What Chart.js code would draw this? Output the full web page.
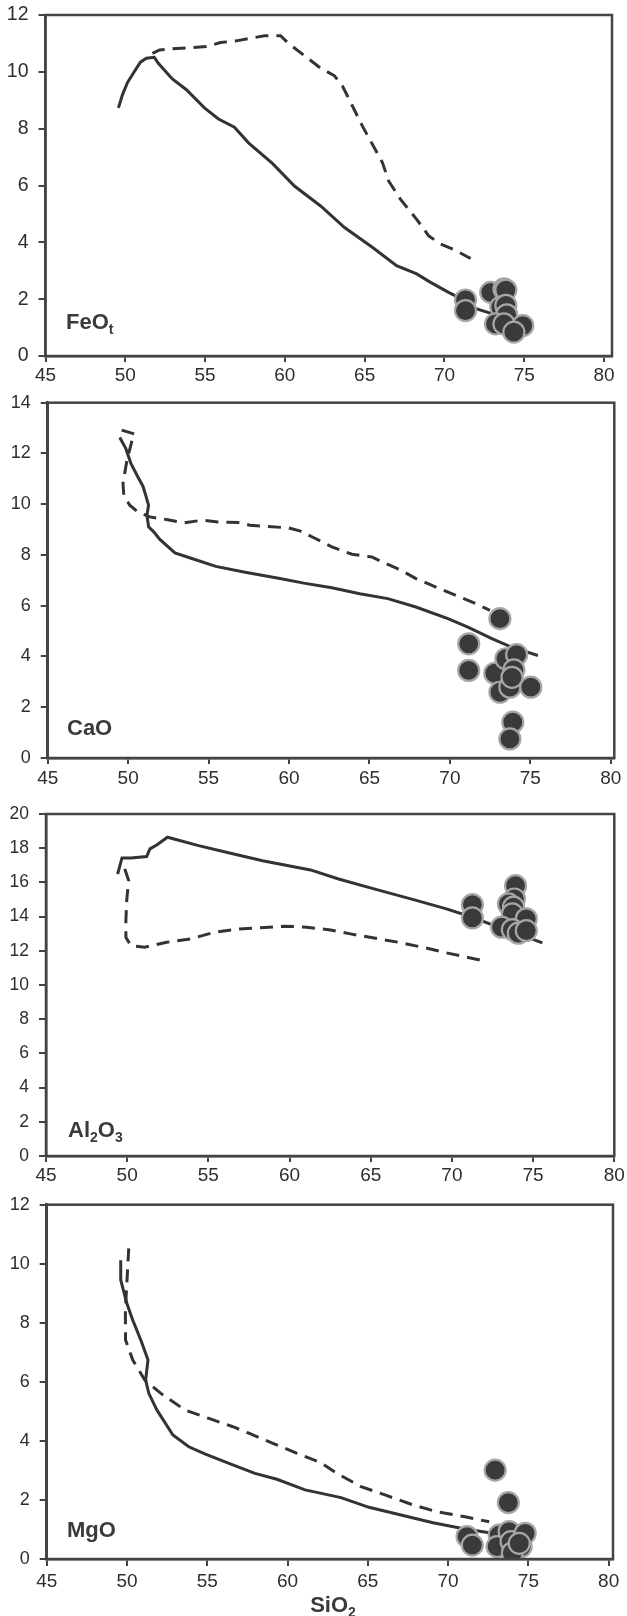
<!DOCTYPE html>
<html><head><meta charset="utf-8">
<script src="https://cdn.jsdelivr.net/npm/chart.js@4.4.1/dist/chart.umd.min.js"></script>
<style>
html,body{margin:0;padding:0;background:#fff;}
body{width:627px;height:1616px;position:relative;overflow:hidden;}
canvas{position:absolute;left:0;}
</style></head><body>
<canvas id="c1"></canvas>
<canvas id="c2"></canvas>
<canvas id="c3"></canvas>
<canvas id="c4"></canvas>
<script>
// ---------- DATA ----------
const xTicks = [45, 50, 55, 60, 65, 70, 75, 80];

// FeOt panel
const feoSolidX = [49.57,49.82,50.14,50.57,50.95,51.32,51.82,52.07,52.53,52.95,53.83,54.96,55.84,56.84,57.72,59.22,60.60,62.24,63.74,65.50,67.00,68.26,69.13,70.26,71.27,72.02,73.02];
const feoSolidY = [8.73,9.19,9.63,10.01,10.34,10.48,10.51,10.30,10.01,9.75,9.37,8.73,8.34,8.05,7.50,6.78,5.98,5.28,4.52,3.82,3.18,2.89,2.59,2.24,1.95,1.66,1.48];
const feoDashX = [51.70,52.15,52.95,55.09,55.96,56.97,58.72,59.73,60.23,62.24,63.11,63.62,64.87,66.12,66.50,67.25,68.26,69.01,69.76,70.76,71.64];
const feoDashY = [10.65,10.77,10.81,10.89,11.03,11.09,11.27,11.27,11.00,10.13,9.86,9.49,8.08,6.80,6.16,5.51,4.81,4.23,3.94,3.70,3.43];
const feoPtsX = [71.32,71.32,72.90,73.73,73.85,73.53,73.85,73.90,73.20,73.73,74.91,74.35];
const feoPtsY = [1.97,1.60,2.24,2.36,2.32,1.72,1.78,1.45,1.13,1.13,1.07,0.84];

// CaO panel
const caoSolidX = [49.48,49.85,50.17,50.60,50.92,51.09,51.27,51.17,51.27,51.59,51.97,52.91,53.96,55.45,57.19,59.43,60.92,62.66,64.40,66.14,67.89,69.88,71.12,72.61,73.61,74.48,75.47];
const caoSolidY = [12.63,12.20,11.61,11.08,10.71,10.36,9.96,9.57,9.11,8.91,8.61,8.08,7.86,7.55,7.33,7.07,6.89,6.71,6.47,6.28,5.95,5.49,5.16,4.70,4.43,4.24,4.04];
const caoDashX = [49.60,50.42,50.22,49.93,49.68,49.73,50.10,50.60,51.34,52.46,53.46,54.58,55.57,56.94,57.56,58.93,59.93,60.67,61.67,62.66,63.91,65.15,66.14,66.89,67.89,69.38,70.62,71.62,72.49];
const caoDashY = [12.92,12.76,12.46,11.74,10.82,10.36,9.96,9.70,9.50,9.39,9.26,9.37,9.30,9.28,9.17,9.11,9.07,8.95,8.64,8.32,8.03,7.92,7.63,7.42,7.07,6.67,6.34,6.08,5.82];
const caoPtsX = [73.11,71.17,71.17,72.79,73.48,74.15,73.98,73.11,73.73,73.86,75.03,73.91,73.73];
const caoPtsY = [5.49,4.50,3.45,3.34,3.91,4.07,3.47,2.59,2.79,3.18,2.79,1.41,0.75];

// Al2O3 panel
const alSolidX = [49.41,49.68,50.22,51.20,51.40,51.82,52.48,54.40,56.37,58.34,61.29,63.02,64.98,67.69,69.66,71.26,72.86,74.09,75.57];
const alSolidY = [16.49,17.43,17.43,17.51,17.96,18.19,18.64,18.15,17.70,17.27,16.73,16.20,15.68,14.98,14.45,13.96,13.38,12.99,12.46];
const alDashX = [49.85,50.09,49.97,49.92,49.92,50.22,51.08,52.43,53.91,55.39,56.86,58.09,59.69,61.05,62.52,63.75,65.48,66.71,68.18,69.66,71.88];
const alDashY = [16.79,16.11,14.94,13.77,12.79,12.31,12.21,12.50,12.70,13.09,13.28,13.34,13.44,13.38,13.22,12.99,12.70,12.50,12.21,11.88,11.43];
const alPtsX = [71.26,71.26,73.92,73.85,73.48,73.79,73.72,74.58,73.06,73.72,74.09,74.58];
const alPtsY = [14.70,13.92,15.81,15.03,14.74,14.55,14.16,13.87,13.38,13.24,13.03,13.18];

// MgO panel
const mgSolidX = [49.61,49.61,49.99,50.36,50.86,51.31,51.16,51.36,51.86,52.86,53.85,54.85,56.35,57.97,59.34,61.09,63.33,65.07,67.07,69.06,70.81,72.56,75.30];
const mgSolidY = [10.12,9.45,8.66,8.09,7.42,6.74,6.06,5.61,5.05,4.20,3.80,3.56,3.24,2.90,2.70,2.34,2.08,1.75,1.49,1.23,1.04,0.89,0.72];
const mgDashX = [50.11,49.99,49.90,49.91,50.36,51.11,52.11,53.60,55.10,56.60,57.59,59.09,60.59,62.08,63.08,64.58,66.07,67.82,69.31,71.06,72.56];
const mgDashY = [10.52,9.33,8.44,7.42,6.74,6.06,5.61,5.05,4.76,4.48,4.26,3.92,3.58,3.26,2.90,2.45,2.17,1.83,1.60,1.43,1.26];
const mgPtsX = [72.93,73.75,71.18,71.51,73.18,73.05,73.80,73.92,74.55,74.80,74.00,74.43];
const mgPtsY = [3.01,1.91,0.76,0.47,0.81,0.42,0.93,0.59,0.42,0.87,0.21,0.53];

// ---------- RENDER ----------
const FONT = "'Liberation Sans', Arial, sans-serif";
const INK = '#3a3a3a';
const pts = (xs, ys) => xs.map((x, i) => ({x: x, y: ys[i]}));

const framePlugin = {
  id: 'frame',
  afterDraw(chart) {
    const a = chart.chartArea, c = chart.ctx;
    c.save();
    c.strokeStyle = '#444';
    c.lineWidth = 2.5;
    c.strokeRect(a.left, a.top, a.right - a.left, a.bottom - a.top);
    c.restore();
  }
};

function drawRich(c, parts, x, y, size, subSize, align) {
  c.save();
  c.fillStyle = INK;
  c.textBaseline = 'alphabetic';
  let total = 0;
  parts.forEach(p => { c.font = 'bold ' + (p.sub ? subSize : size) + 'px ' + FONT; total += c.measureText(p.t).width; });
  let cx = align === 'center' ? x - total / 2 : x;
  parts.forEach(p => {
    c.font = 'bold ' + (p.sub ? subSize : size) + 'px ' + FONT;
    c.fillText(p.t, cx, p.sub ? y + 5 : y);
    cx += c.measureText(p.t).width;
  });
  c.restore();
}

function makePanel(cfg) {
  const cv = document.getElementById(cfg.id);
  cv.width = 627; cv.height = cfg.h;
  cv.style.top = cfg.top + 'px';
  const labelPlugin = {
    id: 'plabel',
    afterDraw(chart) {
      const c = chart.ctx;
      drawRich(c, cfg.label, cfg.lx, cfg.ly - cfg.top, 22, 14, 'left');
      if (cfg.title) drawRich(c, cfg.title, cfg.tx, cfg.ty - cfg.top, 22, 14, 'center');
    }
  };
  const gridOpts = {display: true, drawOnChartArea: false, drawTicks: true, tickLength: 6, color: '#444', lineWidth: 2};
  const borderOpts = {display: true, color: '#444', width: 2.5};
  new Chart(cv, {
    type: 'scatter',
    data: {datasets: [
      {data: pts(cfg.px, cfg.py), order: 0, showLine: false, pointRadius: 10.5, pointHoverRadius: 10.5,
       backgroundColor: '#3a3a3a', borderColor: '#a6a6a6', borderWidth: 2.2},
      {data: pts(cfg.dx, cfg.dy), order: 1, showLine: true, pointRadius: 0, borderColor: '#333',
       borderWidth: 3, borderDash: [13, 8], tension: 0, fill: false},
      {data: pts(cfg.sx, cfg.sy), order: 2, showLine: true, pointRadius: 0, borderColor: '#333',
       borderWidth: 3, tension: 0, fill: false}
    ]},
    options: {
      responsive: false, animation: false, devicePixelRatio: 1, events: [],
      layout: {padding: {top: cfg.padTop, right: cfg.padRight, left: 0, bottom: 0}},
      plugins: {legend: {display: false}, tooltip: {enabled: false}},
      scales: {
        x: {
          type: 'linear', min: 45, max: cfg.xmax,
          afterBuildTicks: s => { s.ticks = xTicks.map(v => ({value: v})); },
          ticks: {stepSize: 5, autoSkip: false, maxRotation: 0, padding: cfg.xpad, color: '#2e2e2e', font: {family: FONT, size: 19}},
          grid: Object.assign({}, gridOpts, {tickLength: cfg.xtl}), border: borderOpts,
          afterFit: s => { s.height = cfg.xh; s.paddingLeft = 0; s.paddingRight = 0; }
        },
        y: {
          type: 'linear', min: 0, max: cfg.ymax,
          ticks: {stepSize: 2, padding: 10, color: '#2e2e2e', font: {family: FONT, size: cfg.yfs}},
          grid: Object.assign({}, gridOpts, {tickLength: 7}), border: borderOpts,
          afterFit: s => { s.width = cfg.left; s.paddingTop = 0; s.paddingBottom = 0; }
        }
      }
    },
    plugins: [framePlugin, labelPlugin]
  });
}

makePanel({id: 'c1', top: 0, h: 390, padTop: 15, padRight: 15, left: 45.5, xh: 34, xmax: 80.5, ymax: 12, yfs: 19.5, xpad: 2, xtl: 6,
  sx: feoSolidX, sy: feoSolidY, dx: feoDashX, dy: feoDashY, px: feoPtsX, py: feoPtsY,
  label: [{t: 'FeO'}, {t: 't', sub: true}], lx: 66, ly: 328.5});
makePanel({id: 'c2', top: 390, h: 395, padTop: 12.7, padRight: 12.7, left: 47.7, xh: 27, xmax: 80.22, ymax: 14, yfs: 18, xpad: 3.5, xtl: 6,
  sx: caoSolidX, sy: caoSolidY, dx: caoDashX, dy: caoDashY, px: caoPtsX, py: caoPtsY,
  label: [{t: 'CaO'}], lx: 67, ly: 735});
makePanel({id: 'c3', top: 785, h: 400, padTop: 29, padRight: 10.3, left: 46, xh: 29, xmax: 80, ymax: 20, yfs: 17.5, xpad: 2, xtl: 6,
  sx: alSolidX, sy: alSolidY, dx: alDashX, dy: alDashY, px: alPtsX, py: alPtsY,
  label: [{t: 'Al'}, {t: '2', sub: true}, {t: 'O'}, {t: '3', sub: true}], lx: 68, ly: 1136.5});
makePanel({id: 'c4', top: 1185, h: 431, padTop: 19.7, padRight: 14, left: 46.7, xh: 57, xmax: 80.27, ymax: 12, yfs: 18, xpad: 4, xtl: 7,
  sx: mgSolidX, sy: mgSolidY, dx: mgDashX, dy: mgDashY, px: mgPtsX, py: mgPtsY,
  label: [{t: 'MgO'}], lx: 67, ly: 1537,
  title: [{t: 'SiO'}, {t: '2', sub: true}], tx: 333, ty: 1612});
</script>
</body></html>
